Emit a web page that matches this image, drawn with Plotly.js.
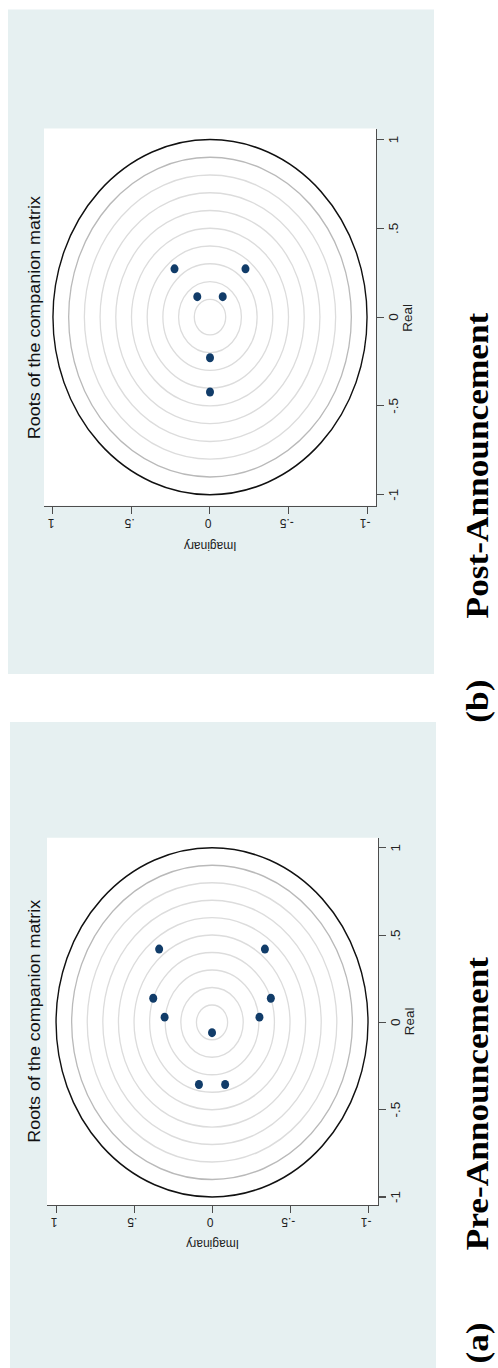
<!DOCTYPE html>
<html>
<head>
<meta charset="utf-8">
<script src="https://cdn.plot.ly/plotly-3.0.1.min.js"></script>
<style>
html, body { margin:0; padding:0; width:498px; height:1368px; overflow:hidden; background:#ffffff; }
#wrap { position:absolute; left:0; top:0; width:1221px; height:498px; transform-origin:0 0;
        transform: translate(0px,1368px) rotate(-90deg) scale(1.12039,1); }
#plot { width:1221px; height:498px; }
</style>
</head>
<body>
<div id="wrap"><div id="plot"></div></div>
<script>
// Roots of the companion matrix
const preReal  = [0.42, 0.42, 0.138, 0.138, 0.030, 0.030, -0.059, -0.356, -0.356];
const preImag  = [0.339, -0.339, 0.377, -0.377, 0.304, -0.304, 0, 0.084, -0.084];
const postReal = [0.272, 0.272, 0.115, 0.115, -0.229, -0.422];
const postImag = [0.226, -0.226, 0.081, -0.081, 0, 0];

const tickVals   = [-1, -0.5, 0, 0.5, 1];
const tickLabels = ["-1", "-.5", "0", ".5", "1"];
const gridRadii  = [0.1, 0.2, 0.3, 0.4, 0.5, 0.6, 0.7, 0.8, 0.9];
const unitRadius = 1;

const panelTitle = "Roots of the companion matrix";
const captions = ["(a)", "Pre-Announcement", "(b)", "Post-Announcement"];

const navy = "#113c69";
const sans = "Liberation Sans, Arial, sans-serif";
const serif = "Liberation Serif, Times New Roman, serif";

const traces = [
  {x: preReal, y: preImag, xaxis: "x", yaxis: "y", type: "scatter", mode: "markers",
   marker: {color: navy, size: 8}, hoverinfo: "skip", showlegend: false},
  {x: postReal, y: postImag, xaxis: "x2", yaxis: "y2", type: "scatter", mode: "markers",
   marker: {color: navy, size: 8}, hoverinfo: "skip", showlegend: false}
];

function axisX(domain, range, anchor) {
  return {domain: domain, range: range, anchor: anchor, showgrid: false, zeroline: false,
    showline: true, linecolor: "#4d4d4d", linewidth: 1, ticks: "outside", ticklen: 7,
    tickcolor: "#4d4d4d", tickwidth: 1, tickvals: tickVals, ticktext: tickLabels,
    tickfont: {family: sans, size: 12, color: "#222"}, fixedrange: true};
}
function axisY(domain, range, anchor) {
  return {domain: domain, range: range, anchor: anchor, showgrid: false, zeroline: false,
    showline: true, linecolor: "#4d4d4d", linewidth: 1, ticks: "outside", ticklen: 6,
    tickcolor: "#4d4d4d", tickwidth: 1, tickvals: tickVals, ticktext: tickLabels,
    tickangle: -90, tickfont: {family: sans, size: 12, color: "#222"}, fixedrange: true};
}

const layoutDomains = {
  xa: [0.11916, 0.38755], ya: [0.24096, 0.90562],
  xb: [0.63030, 0.90602], yb: [0.24498, 0.91165]
};

const shapes = [
  {type: "rect", xref: "paper", yref: "paper", x0: 0, x1: 0.47224, y0: 0.1245, y1: 0.97992,
   fillcolor: "#e6f0f1", line: {width: 0}, layer: "below"},
  {type: "rect", xref: "paper", yref: "paper", x0: 0.50729, x1: 0.99304, y0: 0.12851, y1: 0.98394,
   fillcolor: "#e6f0f1", line: {width: 0}, layer: "below"},
  {type: "rect", xref: "x domain", yref: "y domain", x0: 0, x1: 1, y0: 0, y1: 1,
   fillcolor: "#ffffff", line: {width: 0}, layer: "below"},
  {type: "rect", xref: "x2 domain", yref: "y2 domain", x0: 0, x1: 1, y0: 0, y1: 1,
   fillcolor: "#ffffff", line: {width: 0}, layer: "below"}
];
[["x", "y"], ["x2", "y2"]].forEach(([xr, yr]) => {
  gridRadii.forEach(r => {
    shapes.push({type: "circle", xref: xr, yref: yr, x0: -r, x1: r, y0: -r, y1: r, layer: "below",
      line: {color: r === 0.9 ? "#b9b9b9" : "#dcdcdc", width: 1.3}});
  });
  shapes.push({type: "circle", xref: xr, yref: yr, x0: -unitRadius, x1: unitRadius,
    y0: -unitRadius, y1: unitRadius, layer: "below", line: {color: "#111", width: 1.4}});
});

const annotations = [];
[["x", "y"], ["x2", "y2"]].forEach(([xr, yr]) => {
  annotations.push({text: panelTitle, xref: xr + " domain", yref: "paper", x: 0.5, y: 0.9317,
    xanchor: "center", yanchor: "middle", showarrow: false, font: {family: sans, size: 16, color: "#111"}});
  annotations.push({text: "Real", xref: xr + " domain", yref: yr + " domain", x: 0.5, y: 0,
    xanchor: "center", yanchor: "top", yshift: -23, showarrow: false, font: {family: sans, size: 12, color: "#222"}});
  annotations.push({text: "Imaginary", xref: xr + " domain", yref: yr + " domain", x: 0, y: 0.5,
    xanchor: "right", yanchor: "middle", xshift: -27, textangle: -90, showarrow: false,
    font: {family: sans, size: 12, color: "#222"}});
});
const capPos = [[0.002, "left"], [0.193, "center"], [0.4877, "center"], [0.6601, "center"]];
captions.forEach((c, i) => {
  annotations.push({text: "<b>" + c + "</b>", xref: "paper", yref: "paper", x: capPos[i][0], y: 0.042,
    xanchor: capPos[i][1], yanchor: "middle", showarrow: false, font: {family: serif, size: 31.5, color: "#000"}});
});

const layout = {
  width: 1221, height: 498, margin: {l: 0, r: 0, t: 0, b: 0},
  paper_bgcolor: "#ffffff", plot_bgcolor: "#ffffff", showlegend: false,
  xaxis: axisX(layoutDomains.xa, [-1.046, 1.057], "y"),
  yaxis: axisY(layoutDomains.ya, [-1.064, 1.058], "x"),
  xaxis2: axisX(layoutDomains.xb, [-1.0625, 1.062], "y2"),
  yaxis2: axisY(layoutDomains.yb, [-1.057, 1.057], "x2"),
  shapes: shapes, annotations: annotations
};

Plotly.newPlot("plot", traces, layout, {staticPlot: true, displayModeBar: false});
</script>
</body>
</html>
